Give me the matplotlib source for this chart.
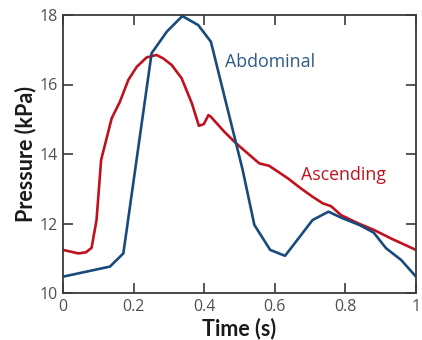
import matplotlib
matplotlib.use('Agg')
import matplotlib.pyplot as plt

# pressure traces (time in s, pressure in kPa)
abd_t = [0.0, 0.133, 0.171, 0.251, 0.294, 0.338, 0.383, 0.419, 0.509, 0.542,
         0.587, 0.629, 0.667, 0.707, 0.752, 0.792, 0.839, 0.88, 0.915, 0.958, 1.0]
abd_p = [10.47, 10.76, 11.14, 16.9, 17.52, 17.97, 17.71, 17.23, 13.54, 11.96,
         11.24, 11.07, 11.57, 12.1, 12.34, 12.15, 11.96, 11.74, 11.29, 10.95, 10.47]

asc_t = [0.0, 0.043, 0.065, 0.081, 0.095, 0.108, 0.138, 0.161, 0.185, 0.209,
         0.237, 0.265, 0.284, 0.308, 0.336, 0.365, 0.385, 0.399, 0.412, 0.419,
         0.457, 0.49, 0.523, 0.556, 0.584, 0.637, 0.674, 0.707, 0.736, 0.759,
         0.788, 0.835, 0.882, 0.929, 1.0]
asc_p = [11.24, 11.14, 11.17, 11.3, 12.1, 13.83, 15.03, 15.5, 16.13, 16.51,
         16.78, 16.85, 16.75, 16.56, 16.18, 15.46, 14.81, 14.86, 15.12, 15.07,
         14.64, 14.31, 14.02, 13.73, 13.66, 13.3, 13.01, 12.77, 12.58, 12.5,
         12.24, 12.01, 11.81, 11.57, 11.24]

x_ticks = [0, 0.2, 0.4, 0.6, 0.8, 1]
x_labels = ['0', '0.2', '0.4', '0.6', '0.8', '1']
y_ticks = [10, 12, 14, 16, 18]

blue = '#184a7c'
red = '#c0121e'
grey = '#3a3a3a'

plt.rcParams['font.family'] = ['Open Sans', 'DejaVu Sans']

fig = plt.figure(figsize=(4.22, 3.4), dpi=100)
ax = fig.add_axes([63 / 422, 47 / 340, 353 / 422, 278 / 340])

ax.plot(asc_t, asc_p, color=red, lw=1.9, solid_joinstyle='round')
ax.plot(abd_t, abd_p, color=blue, lw=1.9, solid_joinstyle='round')

ax.text(0.459, 16.64, 'Abdominal', color='#2b5a8a', fontsize=12.8, va='center')
ax.text(0.674, 13.4, 'Ascending', color=red, fontsize=12.8, va='center')

ax.set_xlim(0, 1)
ax.set_ylim(10, 18)
ax.set_xticks(x_ticks)
ax.set_xticklabels(x_labels)
ax.set_yticks(y_ticks)
ax.tick_params(direction='in', length=7.5, width=1.2, color=grey, labelcolor='#505050',
               labelsize=11.5, top=True, right=True, pad=4)
for s in ax.spines.values():
    s.set_color(grey)
    s.set_linewidth(1.3)

ax.set_xlabel('Time (s)', fontsize=15.5, fontweight='bold', color='#1a1a1a',
              family=['Lato', 'DejaVu Sans'])
ax.set_ylabel('Pressure (kPa)', fontsize=15.5, fontweight='bold', color='#1a1a1a',
              family=['Lato', 'DejaVu Sans'])
ax.xaxis.label.set_va('center')
ax.xaxis.set_label_coords(0.5, -0.128)
ax.yaxis.label.set_va('center')
ax.yaxis.set_label_coords(-0.105, 0.5)

fig.savefig('out.png', dpi=100)
